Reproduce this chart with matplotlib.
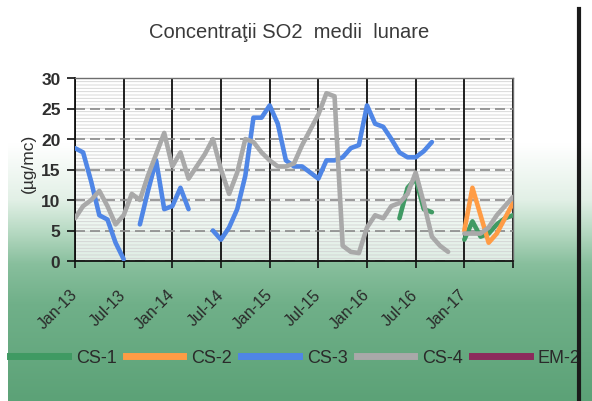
import numpy as np
import matplotlib.pyplot as plt
from matplotlib.colors import LinearSegmentedColormap
from matplotlib.lines import Line2D
from matplotlib.patches import Rectangle
from matplotlib.transforms import ScaledTranslation

plt.rcParams['font.family'] = ['Liberation Sans', 'DejaVu Sans']
plt.rcParams['hatch.linewidth'] = 0.6

nan = np.nan

# monthly means, index 0 = Jan-13 ... 54 = Jul-17
cs1 = [nan] * 40 + [7, 12, 13.5, 8.5, 8] + [nan] * 3 + [3.5, 6.5, 4, 4.5, 6, 7, 7.5]
cs2 = [nan] * 48 + [5, 12, 7.5, 3, 4.5, 7, 9.5]
cs3 = [18.5, 17.8, 13, 7.5, 6.8, 3, 0.3, nan,
       6, 11.5, 16.5, 8.5, 9, 12, 8.5, nan, nan,
       5, 3.5, 5.5, 8.5, 14, 23.5, 23.5, 25.5, 22.5, 16.5,
       15.5, 15.5, 14.5, 13.5, 16.5, 16.5, 17, 18.5, 19,
       25.5, 22.5, 22, 20, 17.8, 17, 17, 18, 19.5] + [nan] * 10
cs4 = [7, 9, 10, 11.5, 9, 6, 7.5, 11, 10, 14, 17.5, 21, 15.5, 17.8, 13.5,
       15.5, 17.5, 20, 15, 11, 14.5, 20, 19.5, 17.8, 16.5, 15.5, 15.5,
       16, 19, 21.5, 24, 27.5, 27, 2.5, 1.5, 1.3, 5.5, 7.5, 7, 9, 9.5,
       11, 14.5, 9.5, 4, 2.5, 1.5, nan,
       4.5, 4.5, 4.5, 5.5, 7.5, 9, 10.5]
em2 = [nan] * 55

series = ['CS-1', 'CS-2', 'CS-3', 'CS-4', 'EM-2']
colors = ['#3f9a63', '#ff9c45', '#4f86e6', '#a9a9a9', '#8c2a5c']
tick_labels = ['Jan-13', 'Jul-13', 'Jan-14', 'Jul-14', 'Jan-15',
               'Jul-15', 'Jan-16', 'Jul-16', 'Jan-17', '']

fig = plt.figure(figsize=(5.92, 4.02), dpi=100)

# fundal cu degrade alb -> verde
bg = fig.add_axes([8 / 592, 0, 1 - 8 / 592, 1], zorder=-2)
cmap = LinearSegmentedColormap.from_list('bg', [
    (0.0, '#ffffff'), (0.36, '#ffffff'), (0.50, '#e2f0e6'),
    (0.58, '#b6d9c2'), (0.66, '#88bf9d'), (0.76, '#70b089'), (1.0, '#5ca277')])
bg.imshow(np.linspace(0, 1, 256).reshape(-1, 1), aspect='auto', cmap=cmap,
          extent=[0, 1, 0, 1], origin='upper')
bg.axis('off')

ax = fig.add_axes([75 / 592, 140 / 402, 438 / 592, 183 / 402])
ax.set_facecolor((1, 1, 1, 0.72))
ax.add_patch(Rectangle((0, 0), 1, 1, transform=ax.transAxes, facecolor='none',
                       edgecolor='#d2d2d2', hatch='-----', lw=0, zorder=0.5))

x = np.arange(55)
for name, vals, c in zip(series, [cs1, cs2, cs3, cs4, em2], colors):
    ax.plot(x, vals, color=c, lw=3.3, solid_joinstyle='round', solid_capstyle='round', zorder=3)

ax.set_xlim(0, 54)
ax.set_ylim(0, 30)
ax.set_yticks(range(0, 31, 5))
ax.set_xticks(range(0, 55, 6))
ax.set_xticklabels(tick_labels, rotation=45, ha='right', va='center',
                   rotation_mode='anchor', fontsize=11.5, color='#2a2a2a')
for lab in ax.get_xticklabels():
    lab.set_transform(lab.get_transform() + ScaledTranslation(-3 / 100, 0, fig.dpi_scale_trans))
ax.tick_params(axis='x', length=5, width=1.2, pad=17, color='#111')
ax.tick_params(axis='y', length=5.5, width=1.2, pad=5, color='#111',
               labelsize=12.5, labelcolor='#2e2e2e')
for lab in ax.get_yticklabels():
    lab.set_fontweight('bold')

ax.grid(axis='y', color='#8a8a8a', ls=(0, (6, 3)), lw=1.2, zorder=1)
ax.grid(axis='x', color='#1e1e1e', ls='-', lw=1.4, zorder=1)
ax.set_axisbelow(True)
for s in ['left', 'bottom']:
    ax.spines[s].set_color('#111')
    ax.spines[s].set_linewidth(1.3)
for s in ['top', 'right']:
    ax.spines[s].set_color('#6e6e6e')
    ax.spines[s].set_linewidth(1.0)

ax.set_ylabel('(µg/mc)', fontsize=12.5, color='#2e2e2e')
ax.yaxis.set_label_coords(-0.09, 0.54)

fig.text(289 / 592, 1 - 32 / 402, 'Concentraţii SO2  medii  lunare',
         ha='center', va='center', fontsize=14.5, color='#3a3a3a')

handles = [Line2D([], [], color=c, lw=5) for c in colors]
fig.legend(handles, series, loc='center left', bbox_to_anchor=(10 / 592, 1 - 359 / 402),
           ncol=5, frameon=False, fontsize=13, handlelength=3.2, handletextpad=0.44,
           columnspacing=0.5, borderaxespad=0, borderpad=0, labelcolor='#2a2a2a')

# marginea paginii scanate
fig.add_artist(Line2D([579 / 592, 579 / 592], [0, 1 - 10 / 402], color='#1a1a1a', lw=3, zorder=10))

plt.savefig('out.png', dpi=100, facecolor='white')
